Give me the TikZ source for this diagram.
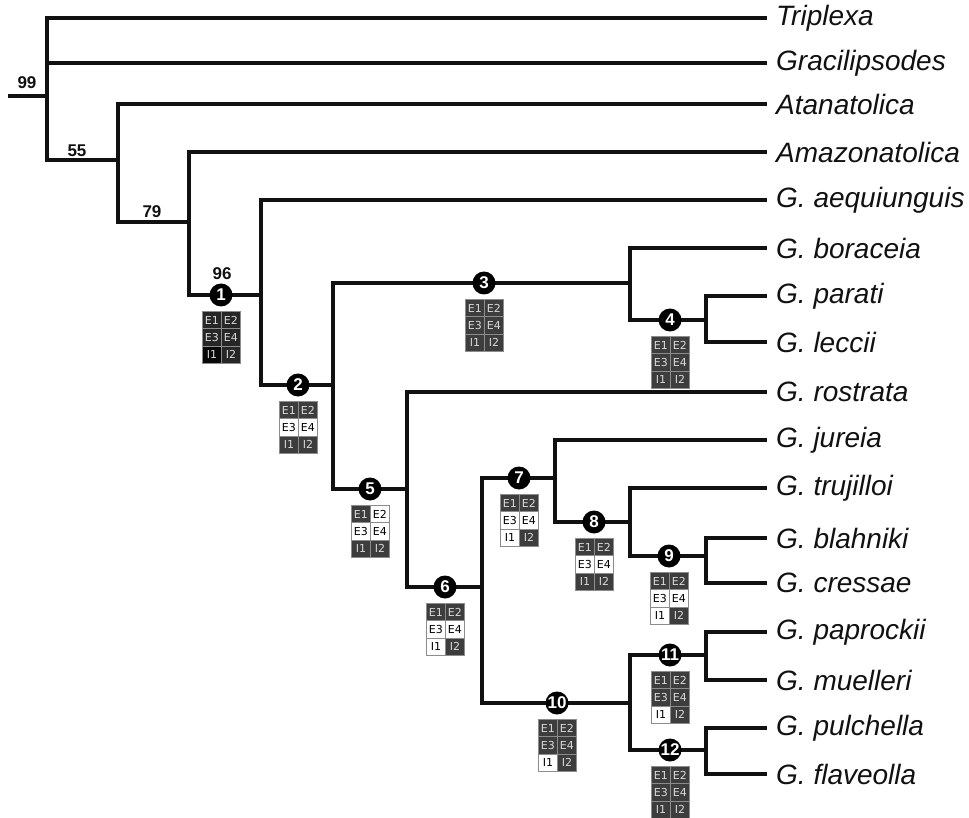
\documentclass[tikz,border=0pt]{standalone}
\usepackage{fontspec}
\setmainfont{Liberation Sans}
\newfontfamily\cellfam{DejaVu Sans}
\definecolor{celld}{HTML}{3D3D3D}
\definecolor{celle}{HTML}{262626}
\definecolor{cellk}{HTML}{080808}
\definecolor{celltxt}{HTML}{D8D8D8}
\definecolor{cellbd}{HTML}{8C8C8C}
\definecolor{brcol}{HTML}{111111}
\tikzset{
  branch/.style={line width=3.3pt, draw=brcol, line cap=rect},
  taxon/.style={anchor=west, inner sep=0pt, font=\itshape\fontsize{28}{28}\selectfont, text=brcol},
  boot/.style={inner sep=0pt, font=\bfseries\fontsize{17}{17}\selectfont, text=brcol},
  circ/.style={circle, fill=black, minimum size=23pt, inner sep=0pt, text=white, font=\bfseries\fontsize{17}{17}\selectfont},
  cell/.style={draw=cellbd, line width=0.8pt, minimum width=19pt, minimum height=17.3pt, inner sep=0pt, anchor=north west, font=\cellfam\fontsize{11}{11}\selectfont},
  cd/.style={fill=celld, text=celltxt},
  ce/.style={fill=celle, text=celltxt},
  ck/.style={fill=cellk, text=celltxt},
  cw/.style={fill=white, text=black},
}
\newcommand\gbox[7]{%
  \node[cell,#2] (#1a) at ([shift={(-19,16)}]#1) {E1};
  \node[cell,#3] (#1b) at ([shift={(0,16)}]#1) {E2};
  \node[cell,#4] (#1c) at ([shift={(-19,33.3)}]#1) {E3};
  \node[cell,#5] (#1d) at ([shift={(0,33.3)}]#1) {E4};
  \node[cell,#6] (#1e) at ([shift={(-19,50.6)}]#1) {I1};
  \node[cell,#7] (#1f) at ([shift={(0,50.6)}]#1) {I2};
}
\begin{document}
\begin{tikzpicture}[x=1pt,y=-1pt]
\useasboundingbox (0,0) rectangle (969,818);
% taxa
\node[taxon] (t1) at (776,18) {Triplexa};
\node[taxon] (t2) at (776,63) {Gracilipsodes};
\node[taxon] (t3) at (776,104) {Atanatolica};
\node[taxon] (t4) at (776,152) {Amazonatolica};
\node[taxon] (t5) at (776,200) {G. aequiunguis};
\node[taxon] (t6) at (776,248) {G. boraceia};
\node[taxon] (t7) at (776,296) {G. parati};
\node[taxon] (t8) at (776,342) {G. leccii};
\node[taxon] (t9) at (776,392) {G. rostrata};
\node[taxon] (t10) at (776,440) {G. jureia};
\node[taxon] (t11) at (776,488) {G. trujilloi};
\node[taxon] (t12) at (776,538) {G. blahniki};
\node[taxon] (t13) at (776,583) {G. cressae};
\node[taxon] (t14) at (776,632) {G. paprockii};
\node[taxon] (t15) at (776,680) {G. muelleri};
\node[taxon] (t16) at (776,728) {G. pulchella};
\node[taxon] (t17) at (776,774) {G. flaveolla};
% clade points
\coordinate (r0) at (10,96);
\coordinate (R) at (47,96);
\coordinate (C55) at (118,160);
\coordinate (C79) at (189,222);
\coordinate (C96) at (261,295);
\coordinate (C2) at (333,385);
\coordinate (C3) at (630,283);
\coordinate (C4) at (706,320);
\coordinate (C5) at (407,489);
\coordinate (C6) at (482,587);
\coordinate (C7) at (555,478);
\coordinate (C8) at (630,522);
\coordinate (C9) at (706,556);
\coordinate (C10) at (630,703);
\coordinate (C11) at (706,655);
\coordinate (C12) at (706,750);
% branches
\draw[branch] (r0) -- (R);
\draw[branch] (R) |- ([xshift=-11pt]t1.west);
\draw[branch] (R) |- ([xshift=-11pt]t2.west);
\draw[branch] (R) |- (C55);
\draw[branch] (C55) |- ([xshift=-11pt]t3.west);
\draw[branch] (C55) |- (C79);
\draw[branch] (C79) |- ([xshift=-11pt]t4.west);
\draw[branch] (C79) |- (C96);
\draw[branch] (C96) |- ([xshift=-11pt]t5.west);
\draw[branch] (C96) |- (C2);
\draw[branch] (C2) |- (C3);
\draw[branch] (C2) |- (C5);
\draw[branch] (C3) |- ([xshift=-11pt]t6.west);
\draw[branch] (C3) |- (C4);
\draw[branch] (C4) |- ([xshift=-11pt]t7.west);
\draw[branch] (C4) |- ([xshift=-11pt]t8.west);
\draw[branch] (C5) |- ([xshift=-11pt]t9.west);
\draw[branch] (C5) |- (C6);
\draw[branch] (C6) |- (C7);
\draw[branch] (C6) |- (C10);
\draw[branch] (C7) |- ([xshift=-11pt]t10.west);
\draw[branch] (C7) |- (C8);
\draw[branch] (C8) |- ([xshift=-11pt]t11.west);
\draw[branch] (C8) |- (C9);
\draw[branch] (C9) |- ([xshift=-11pt]t12.west);
\draw[branch] (C9) |- ([xshift=-11pt]t13.west);
\draw[branch] (C10) |- (C11);
\draw[branch] (C10) |- (C12);
\draw[branch] (C11) |- ([xshift=-11pt]t14.west);
\draw[branch] (C11) |- ([xshift=-11pt]t15.west);
\draw[branch] (C12) |- ([xshift=-11pt]t16.west);
\draw[branch] (C12) |- ([xshift=-11pt]t17.west);
% bootstrap values
\node[boot] (b99) at (27,83) {99};
\node[boot] (b55) at (77,151) {55};
\node[boot] (b79) at (152,212) {79};
\node[boot] (b96) at (222,274) {96};
% numbered nodes
\node[circ] (n1) at (221,295) {1};
\node[circ] (n2) at (298,385) {2};
\node[circ] (n3) at (484,283) {3};
\node[circ] (n4) at (670,320) {4};
\node[circ] (n5) at (370,489) {5};
\node[circ] (n6) at (445,587) {6};
\node[circ] (n7) at (519,478) {7};
\node[circ] (n8) at (594,522) {8};
\node[circ] (n9) at (669,556) {9};
\node[circ] (n10) at (557,703) {10};
\node[circ] (n11) at (670,655) {11};
\node[circ] (n12) at (670,750) {12};
% character boxes
\gbox{n1}{ce}{ce}{ce}{ce}{ck}{ce}
\gbox{n2}{cd}{cd}{cw}{cw}{cd}{cd}
\gbox{n3}{cd}{cd}{cd}{cd}{cd}{cd}
\gbox{n4}{cd}{cd}{cd}{cd}{cd}{cd}
\gbox{n5}{cd}{cw}{cw}{cw}{cd}{cd}
\gbox{n6}{cd}{cd}{cw}{cw}{cw}{cd}
\gbox{n7}{cd}{cd}{cw}{cw}{cw}{cd}
\gbox{n8}{cd}{cd}{cw}{cw}{cd}{cd}
\gbox{n9}{cd}{cd}{cw}{cw}{cw}{cd}
\gbox{n10}{cd}{cd}{cd}{cd}{cw}{cd}
\gbox{n11}{cd}{cd}{cd}{cd}{cw}{cd}
\gbox{n12}{cd}{cd}{cd}{cd}{cd}{cd}
\end{tikzpicture}
\end{document}
